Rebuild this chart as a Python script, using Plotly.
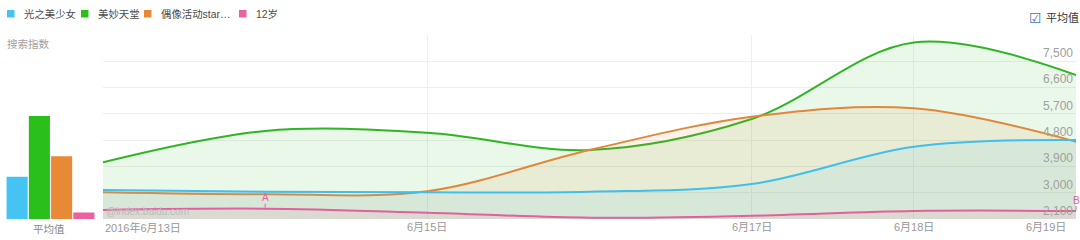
import numpy as np
import plotly.graph_objects as go

# ---------------- data ----------------
dates = ["2016-06-13", "2016-06-14", "2016-06-15", "2016-06-16",
         "2016-06-17", "2016-06-18", "2016-06-19"]
series_names = ["光之美少女", "美妙天堂", "偶像活动star...", "12岁"]
legend_labels = ["光之美少女", "美妙天堂", "偶像活动star…", "12岁"]
guangzhi = [3093, 3035, 3014, 3035, 3298, 4576, 4805]      # 光之美少女
meimiao = [4041, 5113, 5055, 4463, 5524, 8143, 7031]       # 美妙天堂
ouxiang = [3014, 2946, 3052, 4463, 5603, 5890, 4747]       # 偶像活动star...
age12 = [2408, 2453, 2316, 2145, 2213, 2374, 2374]         # 12岁
y_tickvals = [2100, 3000, 3900, 4800, 5700, 6600, 7500, 8400]
y_ticktext = ["2,100", "3,000", "3,900", "4,800", "5,700", "6,600", "7,500", ""]
x_tickvals = ["2016-06-13", "2016-06-15", "2016-06-17", "2016-06-18", "2016-06-19"]
x_ticktext = ["2016年6月13日", "6月15日", "6月17日", "6月18日", "6月19日"]
event_labels = ["A", "B"]
event_dates = ["2016-06-14", "2016-06-19"]

# ---------------- style ----------------
W, H = 1080, 240
FONT = "Liberation Sans, Arial, Noto Sans CJK SC, sans-serif"
bar_colors = ["#45c3f3", "#2bbf1c", "#e88a35", "#ec5fa0"]
line_colors = ["#3fbfeb", "#30b424", "#e0873a", "#e2609b"]
fill_colors = ["rgba(69,195,243,0.10)", "rgba(43,191,28,0.10)",
               "rgba(232,138,53,0.10)", "rgba(236,95,160,0.10)"]


def px_x(p):
    return p / W


def px_y(p):
    return 1 - p / H


plot_left, plot_right, plot_top, plot_bottom = 103, 1076, 35, 219
ydom = [px_y(plot_bottom), px_y(plot_top)]

values = [guangzhi, meimiao, ouxiang, age12]
fig = go.Figure()

# filled areas + lines (drawn in order green, orange, blue, pink)
draw_order = [1, 2, 0, 3]
for i in draw_order:
    fig.add_trace(go.Scatter(
        x=dates, y=values[i], mode="lines", name=series_names[i],
        line=dict(color=line_colors[i], width=2, shape="spline", smoothing=1.0),
        fill="tozeroy", fillcolor=fill_colors[i],
        xaxis="x", yaxis="y", showlegend=False, hoverinfo="skip"))

# averages bar chart
averages = [float(np.mean(v)) for v in values]
fig.add_trace(go.Bar(
    x=series_names, y=averages, marker=dict(color=bar_colors, line=dict(width=0)),
    xaxis="x2", yaxis="y2", showlegend=False, hoverinfo="skip"))

fig.update_layout(
    width=W, height=H,
    margin=dict(l=0, r=0, t=0, b=0),
    paper_bgcolor="white", plot_bgcolor="white",
    font=dict(family=FONT, size=11, color="#999999"),
    bargap=0.05,
    xaxis=dict(
        domain=[px_x(plot_left), px_x(plot_right)],
        type="date", range=[dates[0], dates[-1]],
        tickvals=x_tickvals, showticklabels=False,
        showgrid=True, gridcolor="#eeeeee", gridwidth=1,
        zeroline=False, showline=False, ticks=""),
    yaxis=dict(
        domain=ydom, range=[y_tickvals[0], y_tickvals[-1]],
        tickvals=y_tickvals, ticktext=y_ticktext,
        side="right", ticklabelposition="inside top",
        tickfont=dict(size=12, color="#a0a0a0"),
        showgrid=True, gridcolor="#eeeeee", gridwidth=1,
        zeroline=False, showline=False, ticks=""),
    xaxis2=dict(
        domain=[px_x(6), px_x(95)], type="category", range=[-0.5, 3.5],
        showticklabels=False, showgrid=False, zeroline=False, showline=False),
    yaxis2=dict(
        domain=ydom, range=[y_tickvals[0], y_tickvals[-1]],
        showticklabels=False, showgrid=False, zeroline=False, showline=False,
        anchor="x2"),
)

ann = []
# x tick labels
for j, (d, t) in enumerate(zip(x_tickvals, x_ticktext)):
    if j == 0:
        xa, xs = "left", 0
    elif j == len(x_tickvals) - 1:
        xa, xs = "right", -8
    else:
        xa, xs = "center", 0
    ann.append(dict(x=d, xref="x", y=px_y(227), yref="paper", text=t,
                    showarrow=False, xanchor=xa, xshift=xs, yanchor="middle",
                    font=dict(size=11, color="#999999")))

# legend
leg_x = [7, 81, 144, 239]
shapes = []
for k, lx in enumerate(leg_x):
    shapes.append(dict(type="rect", xref="paper", yref="paper",
                       x0=px_x(lx), x1=px_x(lx + 7.5), y0=px_y(17.5), y1=px_y(10),
                       fillcolor=bar_colors[k], line=dict(width=0)))
    ann.append(dict(x=px_x(lx + 15), y=px_y(14), xref="paper", yref="paper",
                    text=legend_labels[k], showarrow=False, xanchor="left",
                    yanchor="middle", font=dict(size=10.4, color="#4a4a4a")))

ann.append(dict(x=px_x(5), y=px_y(44), xref="paper", yref="paper", text="搜索指数",
                showarrow=False, xanchor="left", yanchor="middle",
                font=dict(size=10.5, color="#a0a0a0")))
ann.append(dict(x=px_x(48.5), y=px_y(229), xref="paper", yref="paper", text="平均值",
                showarrow=False, xanchor="center", yanchor="middle",
                font=dict(size=10.5, color="#888888")))
# checkbox
ann.append(dict(x=px_x(1044), y=px_y(18), xref="paper", yref="paper", text="☑",
                showarrow=False, xanchor="right", yanchor="middle",
                font=dict(size=14, color="#3b74c0", family="DejaVu Sans")))
ann.append(dict(x=px_x(1044), y=px_y(18), xref="paper", yref="paper", text="平均值",
                showarrow=False, xanchor="left", yanchor="middle",
                font=dict(size=11, color="#333333")))
# watermark
ann.append(dict(x=px_x(104), y=px_y(211), xref="paper", yref="paper",
                text="@index.baidu.com", showarrow=False, xanchor="left",
                yanchor="middle", font=dict(size=10, color="#bcbcbc")))
# event markers on 12岁 line
for lab, d in zip(event_labels, event_dates):
    idx = dates.index(d)
    ann.append(dict(x=d, y=age12[idx], xref="x", yref="y", text=lab,
                    showarrow=True, arrowhead=0, arrowwidth=1,
                    arrowcolor="#e2609b", ax=0, ay=-11, standoff=1,
                    borderpad=0, font=dict(size=10, color="#e2609b")))

fig.update_layout(annotations=ann, shapes=shapes)
fig.write_html("out.html")
